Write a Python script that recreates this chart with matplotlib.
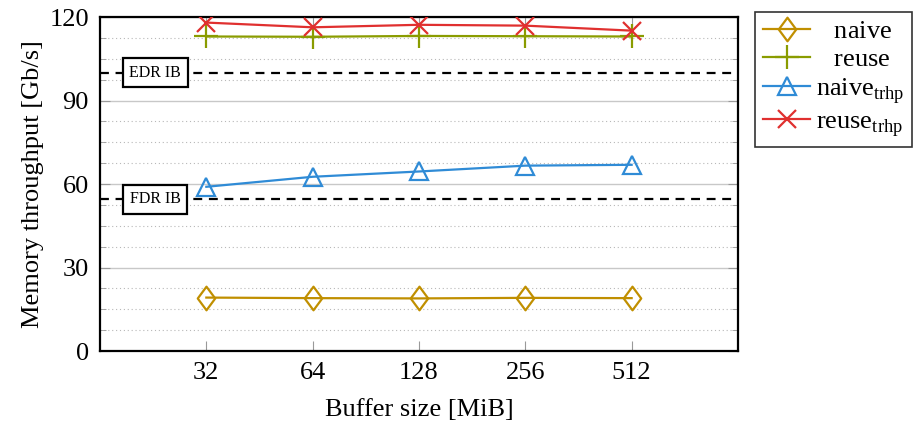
import matplotlib.pyplot as plt
from matplotlib.ticker import FixedLocator, MultipleLocator, NullFormatter
from matplotlib.path import Path
import matplotlib.transforms as mtransforms

plt.rcParams['font.family'] = ['Liberation Serif', 'DejaVu Serif']
plt.rcParams['mathtext.fontset'] = 'custom'
plt.rcParams['mathtext.rm'] = 'Liberation Serif'

# --- data ---
buffer_sizes = [32, 64, 128, 256, 512]
naive = [19.2, 19.0, 18.9, 19.1, 19.0]
reuse = [113.0, 112.9, 113.2, 113.1, 113.0]
naive_trhp = [59.0, 62.6, 64.5, 66.6, 66.9]
reuse_trhp = [118.0, 116.3, 117.2, 116.9, 115.1]

edr_ib = 100.0
fdr_ib = 54.5

FS = 19

# open diamond, a bit narrower than tall
diamond = Path([(0, 1), (0.74, 0), (0, -1), (-0.74, 0), (0, 1)],
               [Path.MOVETO, Path.LINETO, Path.LINETO, Path.LINETO, Path.CLOSEPOLY])

fig = plt.figure(figsize=(9.14, 4.22), dpi=100)
ax = fig.add_axes([0.1094, 0.1682, 0.698, 0.7915])

ax.plot(buffer_sizes, naive, color='#c08f00', lw=1.6, marker=diamond, ms=17,
        mfc='none', mew=1.6, label=r'$\hspace{0.7}$naive', zorder=4)
ax.plot(buffer_sizes, reuse, color='#8a9c00', lw=1.6, marker='+', ms=17,
        mew=1.6, label=r'$\hspace{0.7}$reuse', zorder=4)
ax.plot(buffer_sizes, naive_trhp, color='#2f8bd6', lw=1.6, marker='^', ms=13,
        mfc='none', mew=1.6, label=r'naive$_{\mathrm{trhp}}$', zorder=4)
ax.plot(buffer_sizes, reuse_trhp, color='#e0302f', lw=1.6, marker='x', ms=13,
        mew=1.6, label=r'reuse$_{\mathrm{trhp}}$', zorder=5)

ax.axhline(edr_ib, color='black', lw=1.6, ls=(0, (4, 3)), zorder=3)
ax.axhline(fdr_ib, color='black', lw=1.6, ls=(0, (4, 3)), zorder=3)

trans = mtransforms.blended_transform_factory(ax.transAxes, ax.transData)
for val, txt in [(edr_ib, 'EDR IB'), (fdr_ib, 'FDR IB')]:
    ax.text(0.0865, val, txt, transform=trans, ha='center', va='center',
            fontsize=11.5, zorder=6,
            bbox=dict(boxstyle='square,pad=0.42', fc='white', ec='black', lw=1.6))

ax.set_xscale('log', base=2)
ax.set_xlim(16, 1024)
ax.xaxis.set_major_locator(FixedLocator(buffer_sizes))
ax.set_xticklabels([str(b) for b in buffer_sizes])
ax.xaxis.set_minor_formatter(NullFormatter())
ax.xaxis.set_minor_locator(FixedLocator([]))

ax.set_ylim(0, 120)
ax.yaxis.set_major_locator(MultipleLocator(30))
ax.yaxis.set_minor_locator(MultipleLocator(7.5))

ax.grid(True, which='major', axis='y', color='#c8c8c8', lw=1.0)
ax.grid(True, which='minor', axis='y', color='#b8b8b8', lw=0.8, ls=(0, (1, 2.5)))
ax.set_axisbelow(True)

ax.tick_params(which='both', direction='in', top=True, right=True,
               labelsize=FS, color='#999999')
ax.tick_params(which='major', length=7)
ax.tick_params(which='minor', length=4)
ax.tick_params(axis='x', pad=8)
ax.tick_params(axis='y', pad=8)
for sp in ax.spines.values():
    sp.set_linewidth(1.6)

ax.set_xlabel('Buffer size [MiB]', fontsize=FS, labelpad=11)
ax.set_ylabel('Memory throughput [Gb/s]', fontsize=FS, labelpad=4)

leg = ax.legend(loc='upper left', bbox_to_anchor=(0.826, 0.972),
                bbox_transform=fig.transFigure, fontsize=FS, frameon=True,
                fancybox=False, edgecolor='black', handlelength=1.8,
                handletextpad=0.2, labelspacing=0.17, borderpad=0.3,
                borderaxespad=0.0)
leg.get_frame().set_linewidth(1.2)

fig.savefig('out.png', dpi=100)
